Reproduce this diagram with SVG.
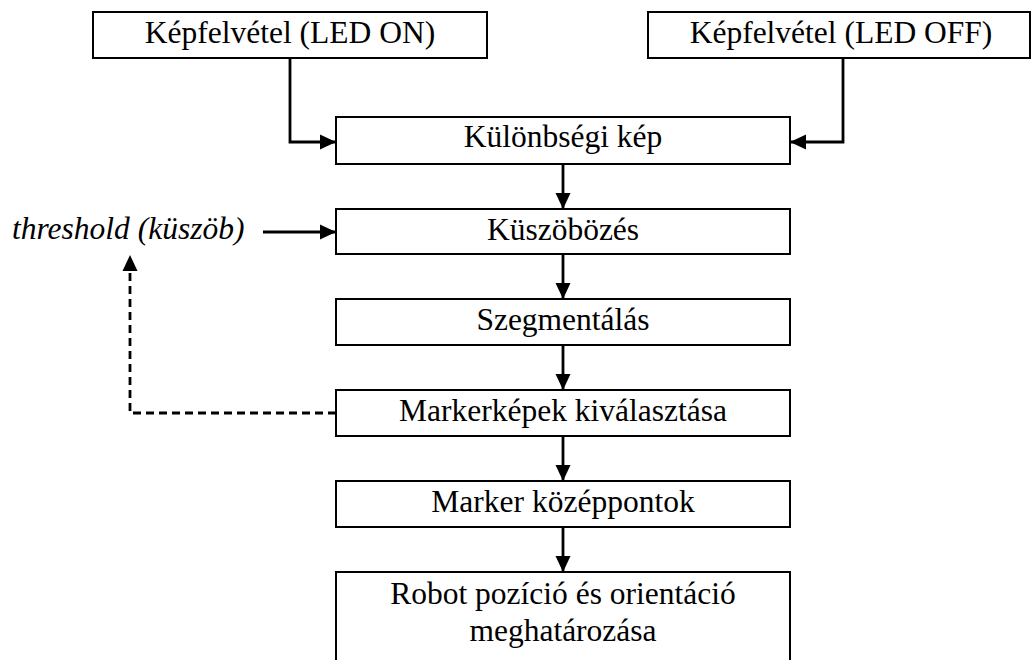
<svg xmlns="http://www.w3.org/2000/svg" width="1032" height="660" viewBox="0 0 1032 660">
  <defs>
    <marker id="arrow" markerUnits="userSpaceOnUse" markerWidth="18" markerHeight="16" refX="16" refY="8" orient="auto">
      <path d="M0,0.5 L16,8 L0,15.5 Z" fill="#000"/>
    </marker>
  </defs>
  <style>
    .box { fill: #fff; stroke: #000; stroke-width: 2; }
    .label { font-family: "Liberation Serif", "Times New Roman", serif; font-size: 31.5px; fill: #000; text-anchor: middle; }
    .edge { fill: none; stroke: #000; stroke-width: 2.8; marker-end: url(#arrow); }
    .dashed { stroke-dasharray: 8 5; }
  </style>
  <rect width="1032" height="660" fill="#fff"/>

  <!-- connectors -->
  <g id="connectors">
    <path class="edge" d="M290,58 V142 H336"/>
    <path class="edge" d="M843,58 V142 H790"/>
    <path class="edge" d="M563,164 V209"/>
    <path class="edge" d="M263,232 H336"/>
    <path class="edge" d="M563,254 V299"/>
    <path class="edge" d="M563,345 V390"/>
    <path class="edge dashed" d="M336,413 H130 V255"/>
    <path class="edge" d="M563,436 V481"/>
    <path class="edge" d="M563,527 V572"/>
  </g>

  <g id="capture-on">
    <rect class="box" x="93" y="12" width="394" height="46"/>
    <text class="label" x="290" y="43">Képfelvétel (LED ON)</text>
  </g>
  <g id="capture-off">
    <rect class="box" x="648" y="12" width="382" height="46"/>
    <text class="label" x="841" y="43">Képfelvétel (LED OFF)</text>
  </g>
  <g id="difference">
    <rect class="box" x="336" y="117" width="454" height="47"/>
    <text class="label" x="563" y="147">Különbségi kép</text>
  </g>
  <g id="threshold">
    <text x="12" y="239" style="font-family: 'Liberation Serif', 'Times New Roman', serif; font-size: 31.5px; font-style: italic;">threshold (küszöb)</text>
  </g>
  <g id="thresholding">
    <rect class="box" x="336" y="209" width="454" height="45"/>
    <text class="label" x="563" y="240">Küszöbözés</text>
  </g>
  <g id="segmentation">
    <rect class="box" x="336" y="299" width="454" height="46"/>
    <text class="label" x="563" y="330">Szegmentálás</text>
  </g>
  <g id="marker-select">
    <rect class="box" x="336" y="390" width="454" height="46"/>
    <text class="label" x="563" y="421">Markerképek kiválasztása</text>
  </g>
  <g id="marker-centers">
    <rect class="box" x="336" y="481" width="454" height="46"/>
    <text class="label" x="563" y="512">Marker középpontok</text>
  </g>
  <g id="robot-pose">
    <rect class="box" x="336" y="572" width="454" height="100"/>
    <text class="label" x="563" y="604">Robot pozíció és orientáció</text>
    <text class="label" x="563" y="641">meghatározása</text>
  </g>
</svg>
